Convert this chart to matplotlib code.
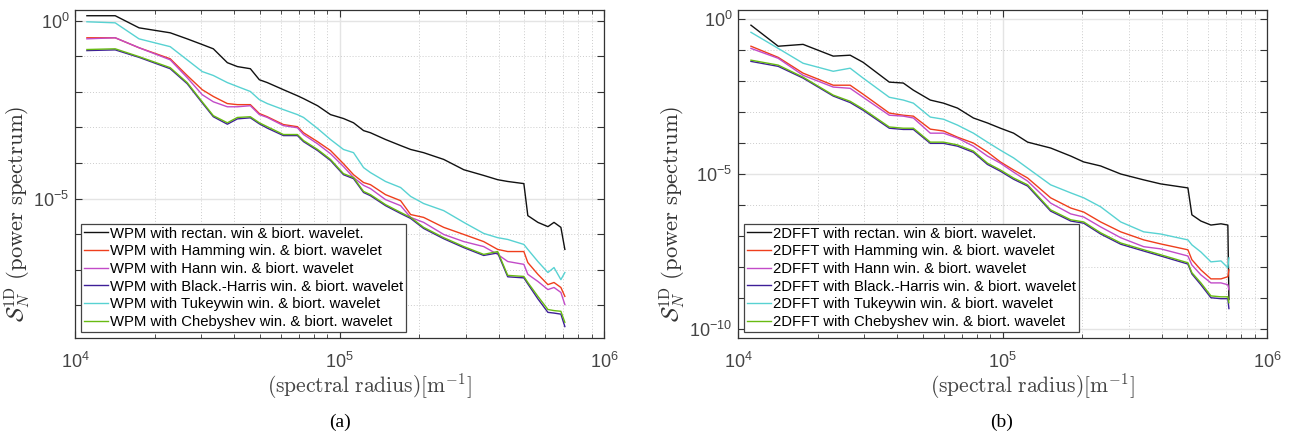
import matplotlib

matplotlib.use("Agg")

import matplotlib.pyplot as plt
import numpy as np
from matplotlib.ticker import FixedLocator, NullFormatter, LogFormatterSciNotation

plt.rcParams["font.family"] = ["Liberation Sans", "DejaVu Sans"]
plt.rcParams["axes.unicode_minus"] = False

# ---- (a) WPM : log10 of spectral radius, log10 of S_N^1D
wpm_lk = [4.045, 4.152, 4.242, 4.360, 4.424, 4.481, 4.523, 4.576, 4.614, 4.663,
          4.697, 4.727, 4.788, 4.841, 4.864, 4.917, 4.966, 5.015, 5.053, 5.091,
          5.117, 5.174, 5.231, 5.269, 5.318, 5.394, 5.470, 5.545, 5.598, 5.636,
          5.697, 5.712, 5.750, 5.788, 5.811, 5.837, 5.852]
wpm_rect = [0.14, 0.14, -0.20, -0.34, -0.51, -0.67, -0.79, -1.18, -1.29, -1.35,
            -1.66, -1.74, -1.94, -2.11, -2.19, -2.39, -2.64, -2.75, -2.87, -3.09,
            -3.15, -3.34, -3.51, -3.62, -3.71, -3.90, -4.19, -4.35, -4.47, -4.52,
            -4.58, -5.48, -5.67, -5.79, -5.67, -5.81, -6.43]
wpm_hamming = [-0.48, -0.48, -0.76, -1.07, -1.54, -1.94, -2.13, -2.33, -2.36, -2.36,
               -2.61, -2.70, -2.92, -2.98, -3.15, -3.40, -3.65, -4.02, -4.33, -4.55,
               -4.61, -4.89, -5.06, -5.45, -5.53, -5.81, -6.01, -6.21, -6.43, -6.49,
               -6.49, -6.80, -7.13, -7.42, -7.36, -7.50, -7.75]
wpm_hann = [-0.51, -0.48, -0.76, -1.10, -1.60, -2.08, -2.28, -2.42, -2.42, -2.39,
            -2.64, -2.72, -2.95, -3.01, -3.20, -3.46, -3.74, -4.10, -4.41, -4.63,
            -4.72, -5.03, -5.20, -5.53, -5.67, -6.01, -6.21, -6.35, -6.57, -6.77,
            -6.85, -7.13, -7.33, -7.56, -7.50, -7.64, -7.98]
wpm_blackharris = [-0.84, -0.82, -1.03, -1.35, -1.77, -2.31, -2.70, -2.91, -2.76, -2.73,
                   -2.90, -3.02, -3.23, -3.23, -3.40, -3.65, -3.93, -4.33, -4.44, -4.83,
                   -4.92, -5.20, -5.42, -5.56, -5.84, -6.13, -6.38, -6.60, -6.53, -7.20,
                   -7.23, -7.40, -7.82, -8.20, -8.22, -8.25, -8.60]
wpm_tukey = [-0.03, -0.06, -0.51, -0.73, -1.10, -1.43, -1.54, -1.74, -1.85, -1.99,
             -2.22, -2.33, -2.50, -2.64, -2.72, -3.03, -3.34, -3.62, -3.71, -4.13,
             -4.27, -4.52, -4.69, -4.94, -5.14, -5.34, -5.67, -5.98, -6.10, -6.15,
             -6.29, -6.43, -6.77, -7.08, -6.94, -7.28, -7.08]
wpm_cheby = [-0.81, -0.79, -1.01, -1.32, -1.74, -2.28, -2.67, -2.87, -2.72, -2.70,
             -2.87, -2.98, -3.20, -3.20, -3.37, -3.62, -3.90, -4.30, -4.41, -4.80,
             -4.89, -5.17, -5.39, -5.53, -5.81, -6.10, -6.35, -6.57, -6.49, -7.16,
             -7.19, -7.36, -7.75, -8.12, -8.15, -8.17, -8.48]

# ---- (b) 2DFFT
fft_lk = [4.049, 4.152, 4.246, 4.360, 4.424, 4.473, 4.572, 4.625, 4.663, 4.727,
          4.777, 4.830, 4.890, 4.943, 4.992, 5.042, 5.095, 5.182, 5.258, 5.307,
          5.371, 5.447, 5.534, 5.598, 5.701, 5.716, 5.750, 5.788, 5.826, 5.852, 5.856]
fft_rect = [-0.19, -0.87, -0.81, -1.19, -1.16, -1.39, -2.03, -2.06, -2.29, -2.61,
            -2.71, -2.87, -3.19, -3.35, -3.52, -3.68, -3.97, -4.16, -4.42, -4.61,
            -4.74, -5.00, -5.19, -5.32, -5.45, -6.32, -6.52, -6.65, -6.61, -6.65, -9.06]
fft_hamming = [-0.87, -1.23, -1.74, -2.13, -2.13, -2.42, -3.03, -3.10, -3.13, -3.55,
               -3.61, -3.81, -4.00, -4.29, -4.61, -4.87, -5.13, -5.77, -6.10, -6.23,
               -6.55, -6.87, -7.13, -7.26, -7.45, -7.77, -8.10, -8.39, -8.39, -8.32, -8.10]
fft_hann = [-0.94, -1.26, -1.81, -2.19, -2.23, -2.52, -3.10, -3.13, -3.19, -3.68,
            -3.68, -3.84, -4.10, -4.42, -4.65, -4.94, -5.23, -5.94, -6.29, -6.39,
            -6.71, -7.06, -7.35, -7.42, -7.65, -7.94, -8.26, -8.52, -8.52, -8.58, -8.74]
fft_blackharris = [-1.36, -1.52, -1.90, -2.48, -2.69, -2.94, -3.52, -3.56, -3.56, -4.01,
                   -4.01, -4.10, -4.30, -4.69, -4.91, -5.17, -5.39, -6.20, -6.52, -6.59,
                   -6.94, -7.27, -7.49, -7.65, -7.91, -8.23, -8.58, -9.00, -9.03, -9.03, -9.35]
fft_tukey = [-0.42, -0.94, -1.42, -1.68, -1.58, -1.90, -2.52, -2.61, -2.71, -3.16,
             -3.23, -3.42, -3.68, -3.97, -4.23, -4.48, -4.81, -5.35, -5.61, -5.77,
             -6.06, -6.55, -6.87, -6.94, -7.13, -7.29, -7.52, -7.84, -7.81, -8.03, -7.71]
fft_cheby = [-1.32, -1.48, -1.87, -2.45, -2.65, -2.90, -3.48, -3.52, -3.52, -3.97,
             -3.97, -4.06, -4.26, -4.65, -4.87, -5.13, -5.35, -6.16, -6.48, -6.55,
             -6.90, -7.23, -7.45, -7.61, -7.87, -8.19, -8.52, -8.94, -8.97, -8.97, -9.16]

windows = ["rectan. win & biort. wavelet.",
           "Hamming win. & biort. wavelet",
           "Hann win. & biort. wavelet",
           "Black.-Harris win. & biort. wavelet",
           "Tukeywin win. & biort. wavelet",
           "Chebyshev win. & biort. wavelet"]
colors = ["#111111", "#ef3e1c", "#c24bc8", "#3e1f98", "#58d2d2", "#68bb12"]


def draw_panel(ax, lk, series, prefix, ylim, ylabels):
    k = 10.0 ** np.asarray(lk)
    for vals, win, c in zip(series, windows, colors):
        ax.plot(k, 10.0 ** np.asarray(vals), color=c, lw=1.0, label=f"{prefix} with {win}")

    ax.set_xscale("log")
    ax.set_yscale("log")
    ax.set_xlim(1e4, 1e6)
    ax.set_ylim(*ylim)

    ax.yaxis.set_major_locator(FixedLocator(ylabels))
    ax.yaxis.set_minor_locator(FixedLocator([10.0 ** e for e in range(-11, 1)]))
    ax.yaxis.set_major_formatter(LogFormatterSciNotation())
    ax.yaxis.set_minor_formatter(NullFormatter())

    ax.grid(True, which="major", color="#e4e4e4", lw=1.0, ls="-")
    ax.grid(True, which="minor", color="#cccccc", lw=0.7, ls=(0, (1, 2)))
    ax.set_axisbelow(True)

    ax.tick_params(which="both", direction="in", top=True, right=True,
                   color="#333333", labelcolor="#444444", labelsize=13)
    ax.tick_params(axis="x", which="major", length=5, pad=10)
    ax.tick_params(axis="x", which="minor", length=3)
    ax.tick_params(axis="y", which="both", length=5, width=0.8, pad=4)
    for s in ax.spines.values():
        s.set_color("#333333")
        s.set_linewidth(0.9)

    ax.set_xlabel(r"$\mathrm{(spectral\ radius)[m^{-1}]}$", math_fontfamily="cm",
                  fontsize=15.5, color="#444444")
    ax.xaxis.set_label_coords(0.556, -0.10)
    ax.set_ylabel(r"$\mathcal{S}_N^{\mathrm{1D}}\ \mathrm{(power\ spectrum)}$",
                  math_fontfamily="cm", fontsize=16.3, color="#333333")

    leg = ax.legend(loc="lower left", bbox_to_anchor=(0.011, 0.018), borderaxespad=0,
                    fancybox=False, framealpha=1, edgecolor="#444444", fontsize=10.7,
                    handlelength=1.6, handletextpad=0.15, labelspacing=0.25,
                    borderpad=0.2)
    leg.get_frame().set_linewidth(0.9)


fig = plt.figure(figsize=(12.95, 4.37), dpi=100)
ax_a = fig.add_axes([75 / 1295, 99 / 437, 529 / 1295, 328 / 437])
ax_b = fig.add_axes([738 / 1295, 99 / 437, 529 / 1295, 328 / 437])

draw_panel(ax_a, wpm_lk,
           [wpm_rect, wpm_hamming, wpm_hann, wpm_blackharris, wpm_tukey, wpm_cheby],
           "WPM", (1.2e-9, 2.0), [1e0, 1e-5])
ax_a.yaxis.set_label_coords(-0.08, 0.38)

draw_panel(ax_b, fft_lk,
           [fft_rect, fft_hamming, fft_hann, fft_blackharris, fft_tukey, fft_cheby],
           "2DFFT", (5e-11, 2.0), [1e0, 1e-5, 1e-10])
ax_b.yaxis.set_label_coords(-0.095, 0.38)

fig.text(340 / 1295, 1 - 422 / 437, "(a)", ha="center", va="center",
         family="Liberation Serif", fontsize=14)
fig.text(1002 / 1295, 1 - 422 / 437, "(b)", ha="center", va="center",
         family="Liberation Serif", fontsize=14)

fig.savefig("out.png", dpi=100)
